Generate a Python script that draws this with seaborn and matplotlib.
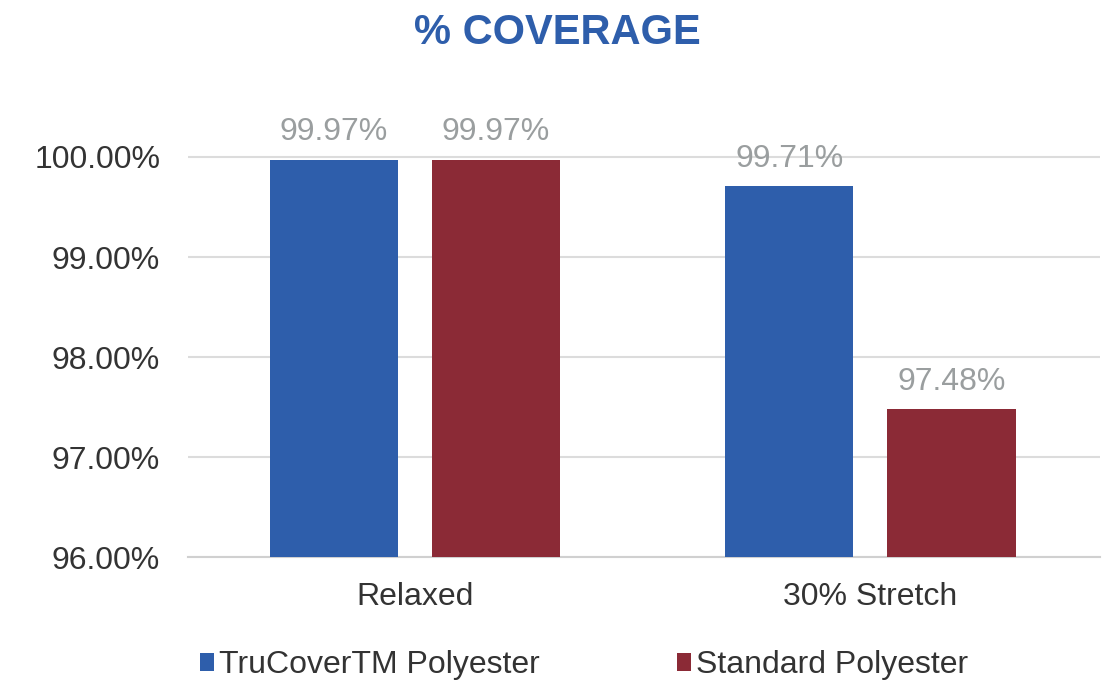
import numpy as np
import pandas as pd
import matplotlib.pyplot as plt
import seaborn as sns

conditions = ["Relaxed", "30% Stretch"]
series_names = ["TruCoverTM Polyester", "Standard Polyester"]
trucover = [99.97, 99.71]
standard = [99.97, 97.48]
y_ticks = [96, 97, 98, 99, 100]

df = pd.DataFrame({
    "condition": conditions * 2,
    "series": [series_names[0]] * 2 + [series_names[1]] * 2,
    "coverage": trucover + standard,
})

sns.set_style("white")
plt.rcParams["font.family"] = ["Liberation Sans", "DejaVu Sans"]

fig = plt.figure(figsize=(11.15, 6.87), dpi=100)
ax = fig.add_axes([0.1686, 0.189, 0.818, 0.648])

palette = {series_names[0]: "#2E5EAB", series_names[1]: "#8B2A36"}
sns.barplot(data=df, x="condition", y="coverage", hue="series",
            palette=palette, width=0.712, gap=0.21, saturation=1,
            linewidth=0, ax=ax, zorder=3)

ax.set_ylim(96, 100.45)
ax.set_xlim(-0.498, 1.504)
ax.set_yticks(y_ticks)
ax.set_yticklabels(["{0:.2f}%".format(v) for v in y_ticks])
ax.grid(axis="y", color="#DCDCDC", linewidth=1.5, zorder=0)
ax.tick_params(axis="both", length=0, labelsize=23, colors="#333333")
ax.tick_params(axis="x", pad=18)
ax.tick_params(axis="y", pad=20)
for s in ["top", "right", "left"]:
    ax.spines[s].set_visible(False)
ax.spines["bottom"].set_color("#D0D0D0")
ax.spines["bottom"].set_linewidth(1.5)
ax.set_xlabel("")
ax.set_ylabel("")

# data labels
for cont in ax.containers:
    ax.bar_label(cont, labels=["{0:.2f}%".format(v) for v in cont.datavalues],
                 padding=9, fontsize=23, color="#9A9E9F")

ax.legend(loc="center", bbox_to_anchor=(0.434, -0.243), ncol=2,
          frameon=False, fontsize=23, handlelength=0.45, handleheight=0.45,
          handletextpad=0.15, columnspacing=4.3, labelcolor="#333333")

fig.text(0.5, 0.952, "% COVERAGE", ha="center", va="center",
         fontsize=30, fontweight="bold", color="#2E5EAB")

plt.savefig("out.png", dpi=100)
